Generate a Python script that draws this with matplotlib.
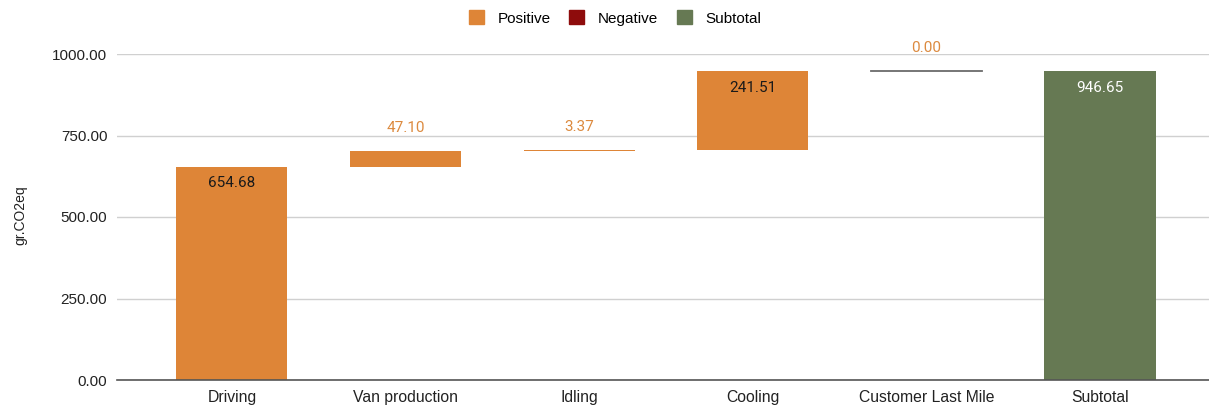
import matplotlib.pyplot as plt
from matplotlib.patches import Patch

categories = ['Driving', 'Van production', 'Idling', 'Cooling', 'Customer Last Mile', 'Subtotal']
values = [654.68, 47.10, 3.37, 241.51, 0.00, 946.65]
kinds = ['pos', 'pos', 'pos', 'pos', 'pos', 'sub']
yticks = [0, 250, 500, 750, 1000]

orange = '#de8537'
red = '#8e0c0c'
green = '#667953'

plt.rcParams['font.family'] = ['Liberation Sans', 'DejaVu Sans']

fig = plt.figure(figsize=(12.09, 4.05), dpi=100)
ax = fig.add_axes([117 / 1209, 25 / 405, 1 - 117 / 1209, 326 / 405])

# running totals for the waterfall
bottoms = []
run = 0.0
for v, k in zip(values, kinds):
    if k == 'sub':
        bottoms.append(0.0)
        run = v
    else:
        bottoms.append(run)
        run += v

xs = list(range(len(categories)))
w = 0.64
for x, v, b, k in zip(xs, values, bottoms, kinds):
    col = green if k == 'sub' else orange
    if v == 0:
        ax.plot([x - w / 2, x + w / 2], [b, b], color='#6b6b6b', lw=1.3, zorder=3)
    else:
        ax.bar(x, v, w, bottom=b, color=col, zorder=3)
    top = b + v
    if v < 100:
        ax.annotate('{0:.2f}'.format(v), (x, top), xytext=(0, 17), textcoords='offset points',
                    ha='center', va='center', color='#dc8a3f', fontsize=11,
                    family='Roboto', annotation_clip=False)
    else:
        tc = 'white' if k == 'sub' else '#1a1a1a'
        ax.annotate('{0:.2f}'.format(v), (x, top), xytext=(0, -12), textcoords='offset points',
                    ha='center', va='center', color=tc, fontsize=11, family='Roboto')

ax.set_xlim(-0.662, 5.628)
ax.set_ylim(0, 1000)
ax.set_yticks(yticks)
ax.set_yticklabels(['{0:.2f}'.format(t) for t in yticks], fontsize=11, color='#222222')
ax.set_xticks(xs)
ax.set_xticklabels(categories, fontsize=11.3, color='#222222')
ax.tick_params(axis='both', length=0)
ax.tick_params(axis='y', pad=7)
ax.tick_params(axis='x', pad=7)
ax.grid(axis='y', color='#d0d0d0', lw=1, zorder=0)
for s in ['left', 'right', 'top']:
    ax.spines[s].set_visible(False)
ax.spines['bottom'].set_color('#555555')
ax.spines['bottom'].set_linewidth(1.2)
ax.spines['bottom'].set_zorder(4)

fig.text(20 / 1209, 1 - 215 / 405, 'gr.CO2eq', rotation=90, ha='center', va='center',
         fontsize=10, color='#222222')

handles = [Patch(color=orange, label='Positive'), Patch(color=red, label='Negative'),
           Patch(color=green, label='Subtotal')]
fig.legend(handles=handles, loc='center', bbox_to_anchor=(615 / 1209, 1 - 18 / 405), ncol=3,
           frameon=False, fontsize=11, handlelength=1.0, handleheight=1.0,
           handletextpad=0.9, columnspacing=1.2)

fig.savefig('out.png', dpi=100)
